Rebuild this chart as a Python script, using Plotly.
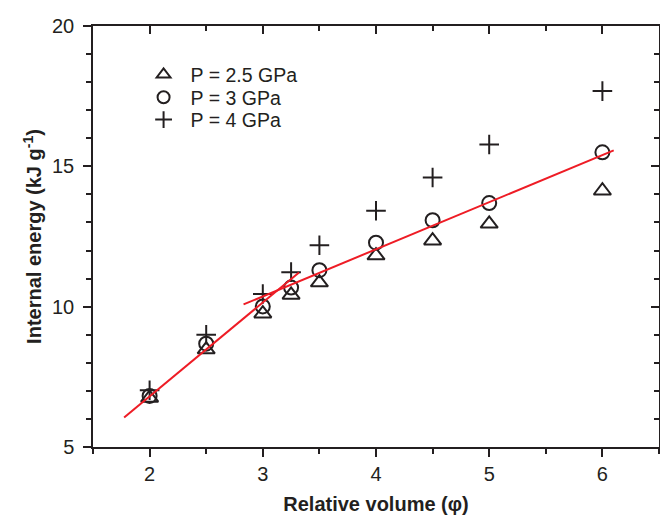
import plotly.graph_objects as go

# Data
phi = [2, 2.5, 3, 3.25, 3.5, 4, 4.5, 5, 6]
e_25 = [6.75, 8.47, 9.75, 10.42, 10.86, 11.82, 12.35, 12.95, 14.13]
e_3 = [6.82, 8.68, 10.01, 10.68, 11.30, 12.28, 13.08, 13.69, 15.50]
e_4 = [7.02, 9.00, 10.45, 11.23, 12.19, 13.42, 14.60, 15.78, 17.68]

fit1_x = [1.775, 3.32]
fit1_y = [6.05, 11.22]
fit2_x = [2.83, 6.10]
fit2_y = [10.08, 15.57]

series_names = ["P = 2.5 GPa", "P = 3 GPa", "P = 4 GPa"]
x_ticks = [2, 3, 4, 5, 6]
y_ticks = [5, 10, 15, 20]
x_range = [1.5, 6.5]
y_range = [5, 20]

FONT = "Liberation Sans, Arial, sans-serif"
INK = "#231f20"
RED = "#ee1c25"

fig = go.Figure()
# fit lines drawn on the mirrored (top/right) axes, which share the same ranges
fig.add_trace(go.Scatter(x=fit1_x, y=fit1_y, mode="lines", line=dict(color=RED, width=2),
                         showlegend=False, hoverinfo="skip", xaxis="x2", yaxis="y2"))
fig.add_trace(go.Scatter(x=fit2_x, y=fit2_y, mode="lines", line=dict(color=RED, width=2),
                         showlegend=False, hoverinfo="skip", xaxis="x2", yaxis="y2"))

marker_styles = [
    dict(symbol="triangle-up-open", size=15, color=INK, line=dict(width=2, color=INK)),
    dict(symbol="circle-open", size=14, color=INK, line=dict(width=2, color=INK)),
    dict(symbol="cross-thin-open", size=14, color=INK, line=dict(width=2, color=INK)),
]
legend_ids = ["legend", "legend2", "legend3"]
for name, ys, mk, lg in zip(series_names, [e_25, e_3, e_4], marker_styles, legend_ids):
    fig.add_trace(go.Scatter(x=phi, y=ys, mode="markers", name=name, marker=mk, legend=lg))

axis_common = dict(showgrid=False, zeroline=False, showline=True, linecolor=INK, linewidth=1.5,
                   tickcolor=INK, tickwidth=1.5, ticklen=8, automargin=False,
                   tickfont=dict(family=FONT, size=20, color=INK))

legend_rows = [0.884, 0.830, 0.777]


def make_legend(yrow):
    return dict(x=0.077, y=yrow, xanchor="left", yanchor="middle",
                bgcolor="rgba(0,0,0,0)", borderwidth=0,
                font=dict(family=FONT, size=19.5, color=INK),
                itemwidth=44, itemsizing="constant", tracegroupgap=0)


fig.update_layout(
    width=660, height=515,
    margin=dict(l=93, r=1, t=26, b=68),
    paper_bgcolor="white", plot_bgcolor="white",
    showlegend=True,
    legend=make_legend(legend_rows[0]),
    legend2=make_legend(legend_rows[1]),
    legend3=make_legend(legend_rows[2]),
    xaxis=dict(range=x_range, tickvals=x_ticks, ticks="outside",
               minor=dict(dtick=0.5, tick0=0, ticks="outside", ticklen=5, tickcolor=INK, tickwidth=1.5),
               title=dict(text="Relative volume (φ)", font=dict(family=FONT, size=20, color=INK, weight="bold"),
                          standoff=17),
               **axis_common),
    yaxis=dict(range=y_range, tickvals=y_ticks, ticks="outside", ticklabelstandoff=5,
               minor=dict(dtick=1, tick0=0, ticks="outside", ticklen=5, tickcolor=INK, tickwidth=1.5),
               title=dict(text="Internal energy (kJ g<sup>-1</sup>)",
                          font=dict(family=FONT, size=20, color=INK, weight="bold"), standoff=5),
               **axis_common),
    xaxis2=dict(range=x_range, tickvals=x_ticks, ticks="inside", overlaying="x", side="top",
                anchor="y2", showticklabels=False,
                minor=dict(dtick=0.5, tick0=0, ticks="inside", ticklen=5, tickcolor=INK, tickwidth=1.5),
                **axis_common),
    yaxis2=dict(range=y_range, tickvals=y_ticks, ticks="inside", overlaying="y", side="right",
                anchor="x2", showticklabels=False,
                minor=dict(dtick=1, tick0=0, ticks="inside", ticklen=5, tickcolor=INK, tickwidth=1.5),
                **axis_common),
)

# remove the browser's default page margin so the 660x515 figure fills the window exactly
fig.write_html("out.html", config={"displayModeBar": False},
               post_script="document.body.style.margin='0';")
